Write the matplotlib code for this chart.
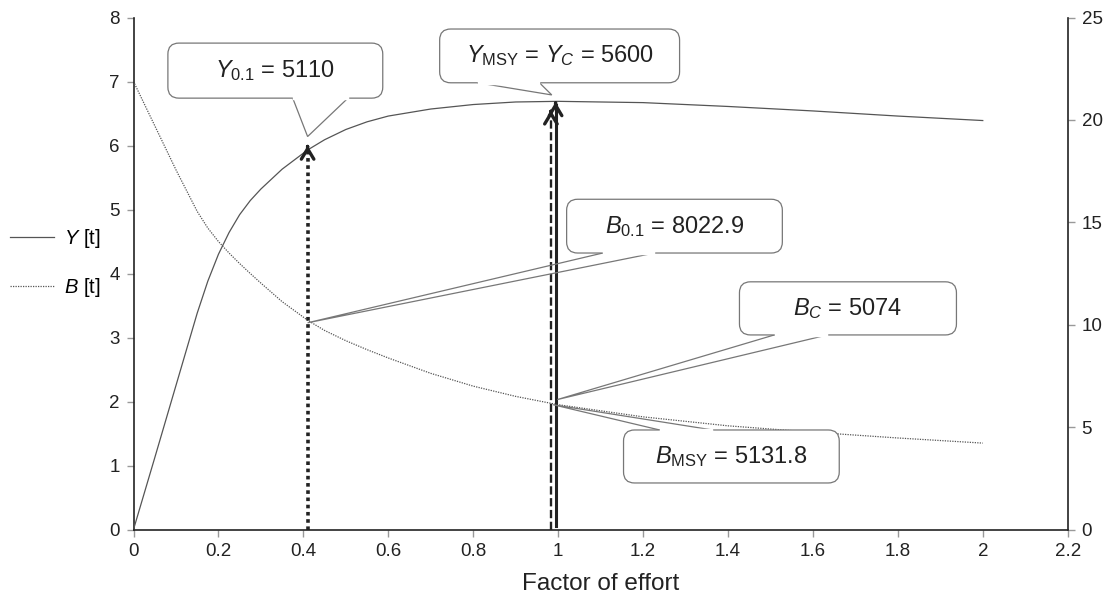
import numpy as np
import matplotlib
matplotlib.use("Agg")
import matplotlib.pyplot as plt
from matplotlib.patches import FancyBboxPatch
from matplotlib.lines import Line2D

plt.rcParams['font.family'] = ['Liberation Sans', 'DejaVu Sans']
plt.rcParams['mathtext.fontset'] = 'custom'
plt.rcParams['mathtext.rm'] = 'Liberation Sans'
plt.rcParams['mathtext.it'] = 'Liberation Sans:italic'

# data (left axis units)
effort = [0, 0.05, 0.1, 0.15, 0.175, 0.2, 0.225, 0.25, 0.275, 0.3, 0.35, 0.41,
          0.45, 0.5, 0.55, 0.6, 0.7, 0.8, 0.9, 1.0, 1.2, 1.4, 1.6, 1.8, 2.0]
yield_t = [0, 1.12, 2.25, 3.38, 3.88, 4.3, 4.64, 4.92, 5.14, 5.32, 5.63, 5.93,
           6.09, 6.25, 6.37, 6.46, 6.57, 6.64, 6.68, 6.69, 6.67, 6.61, 6.54, 6.46, 6.39]
biomass_t = [7.0, 6.31, 5.62, 4.97, 4.71, 4.5, 4.32, 4.155, 4.0, 3.85, 3.56, 3.27,
             3.11, 2.95, 2.81, 2.68, 2.44, 2.24, 2.08, 1.95, 1.76, 1.62, 1.52, 1.43, 1.35]

# reference points
x_01 = 0.41
x_msy = 0.983
x_c = 0.994
top_01 = 6.0
top_msy = 6.55
top_c = 6.68

# callouts: text, tip (x, y), box (x0, y0, x1, y1), wedge base x, base on top edge?
callouts = [
    (r"$Y_{0.1}$ = 5110", (0.41, 6.14), (0.081, 6.74, 0.587, 7.60), (0.375, 0.505), False),
    (r"$Y_{\mathrm{MSY}}$ = $Y_C$ = 5600", (0.985, 6.79), (0.721, 6.98, 1.286, 7.82), (0.811, 0.956), False),
    (r"$B_{0.1}$ = 8022.9", (0.41, 3.23), (1.020, 4.32, 1.528, 5.16), (1.105, 1.227), False),
    (r"$B_C$ = 5074", (0.998, 2.03), (1.427, 3.04, 1.938, 3.87), (1.509, 1.634), False),
    (r"$B_{\mathrm{MSY}}$ = 5131.8", (0.988, 1.95), (1.154, 0.727, 1.662, 1.555), (1.239, 1.364), True),
]

fig = plt.figure(figsize=(11.09, 5.98), dpi=100)
ax = fig.add_axes([133.5 / 1109, 1 - 529.5 / 598, (1067.7 - 133.5) / 1109, (529.5 - 17.5) / 598])

curve_col = '#555555'
ax.plot(effort, yield_t, color=curve_col, lw=0.9, label='$Y$ [t]', zorder=3)
ax.plot(effort, biomass_t, color=curve_col, lw=0.9, ls=(0, (1, 1)), label='$B$ [t]', zorder=3)

# vertical reference lines
ax.plot([x_01, x_01], [0, top_01 - 0.05], color='#222222', lw=2.6, ls=(0, (1, 1)), zorder=4)
ax.plot([x_msy, x_msy], [0, top_msy - 0.05], color='#222222', lw=1.7, ls=(0, (3.5, 1.5)), zorder=4)
ax.plot([x_c, x_c], [0.05, top_c - 0.05], color='#222222', lw=2.2, zorder=4)
for xv, tv in [(x_01, top_01), (x_msy, top_msy), (x_c, top_c)]:
    ax.annotate("", xy=(xv, tv), xytext=(xv, tv - 0.02),
                arrowprops=dict(arrowstyle="->,head_length=0.75,head_width=0.45",
                                color='#222222', lw=2.4, shrinkA=0, shrinkB=0),
                zorder=5)

ax.set_xlim(0, 2.2)
ax.set_ylim(0, 8)
ax.set_xticks(np.arange(0, 2.21, 0.2))
ax.set_xticklabels(['0', '0.2', '0.4', '0.6', '0.8', '1', '1.2', '1.4', '1.6', '1.8', '2', '2.2'])
ax.set_yticks(range(0, 9))
ax.set_xlabel('Factor of effort', fontsize=17.5, labelpad=9, color='#222222')

ax2 = ax.twinx()
ax2.set_ylim(0, 25)
ax2.set_yticks(range(0, 26, 5))

for a in (ax, ax2):
    a.spines['top'].set_visible(False)
    for s in a.spines.values():
        s.set_linewidth(1.2)
        s.set_color('#222222')
    a.tick_params(length=5, width=1, color='#999999', labelsize=13.5,
                  labelcolor='#222222', pad=5)
ax.spines['right'].set_visible(False)
ax2.spines['left'].set_visible(False)
ax2.spines['bottom'].set_visible(False)

# callout boxes
fig.canvas.draw()
p0 = ax.transData.transform((0, 0))
p1 = ax.transData.transform((1, 1))
aspect = (p1[1] - p0[1]) / (p1[0] - p0[0])
xpx = p1[0] - p0[0]
for text, tip, box, base, on_top in callouts:
    x0, y0, x1, y1 = box
    ey = y1 if on_top else y0
    ax.plot([base[0], tip[0], base[1]], [ey, tip[1], ey], color='#777777', lw=0.9,
            zorder=6, solid_joinstyle='miter')
    patch = FancyBboxPatch((x0, y0), x1 - x0, y1 - y0,
                           boxstyle="round,pad=0,rounding_size=%f" % (11 / xpx),
                           mutation_aspect=1 / aspect, fc='white', ec='#777777',
                           lw=0.9, zorder=7)
    ax.add_patch(patch)
    ax.plot([base[0] + 0.003, base[1] - 0.003], [ey, ey], color='white', lw=2.5, zorder=8)
    ax.text((x0 + x1) / 2, (y0 + y1) / 2, text, ha='center', va='center',
            fontsize=17, color='#222222', zorder=9)

handles = [Line2D([], [], color=curve_col, lw=0.9),
           Line2D([], [], color=curve_col, lw=0.9, ls=(0, (1, 1)))]
fig.legend(handles, ['$Y$ [t]', '$B$ [t]'], loc='center left',
           bbox_to_anchor=(10 / 1109, 1 - 263 / 598), frameon=False, fontsize=14.5,
           handlelength=2.2, handletextpad=0.5, labelspacing=1.3,
           borderpad=0, borderaxespad=0)

fig.savefig('out.png', dpi=100)
